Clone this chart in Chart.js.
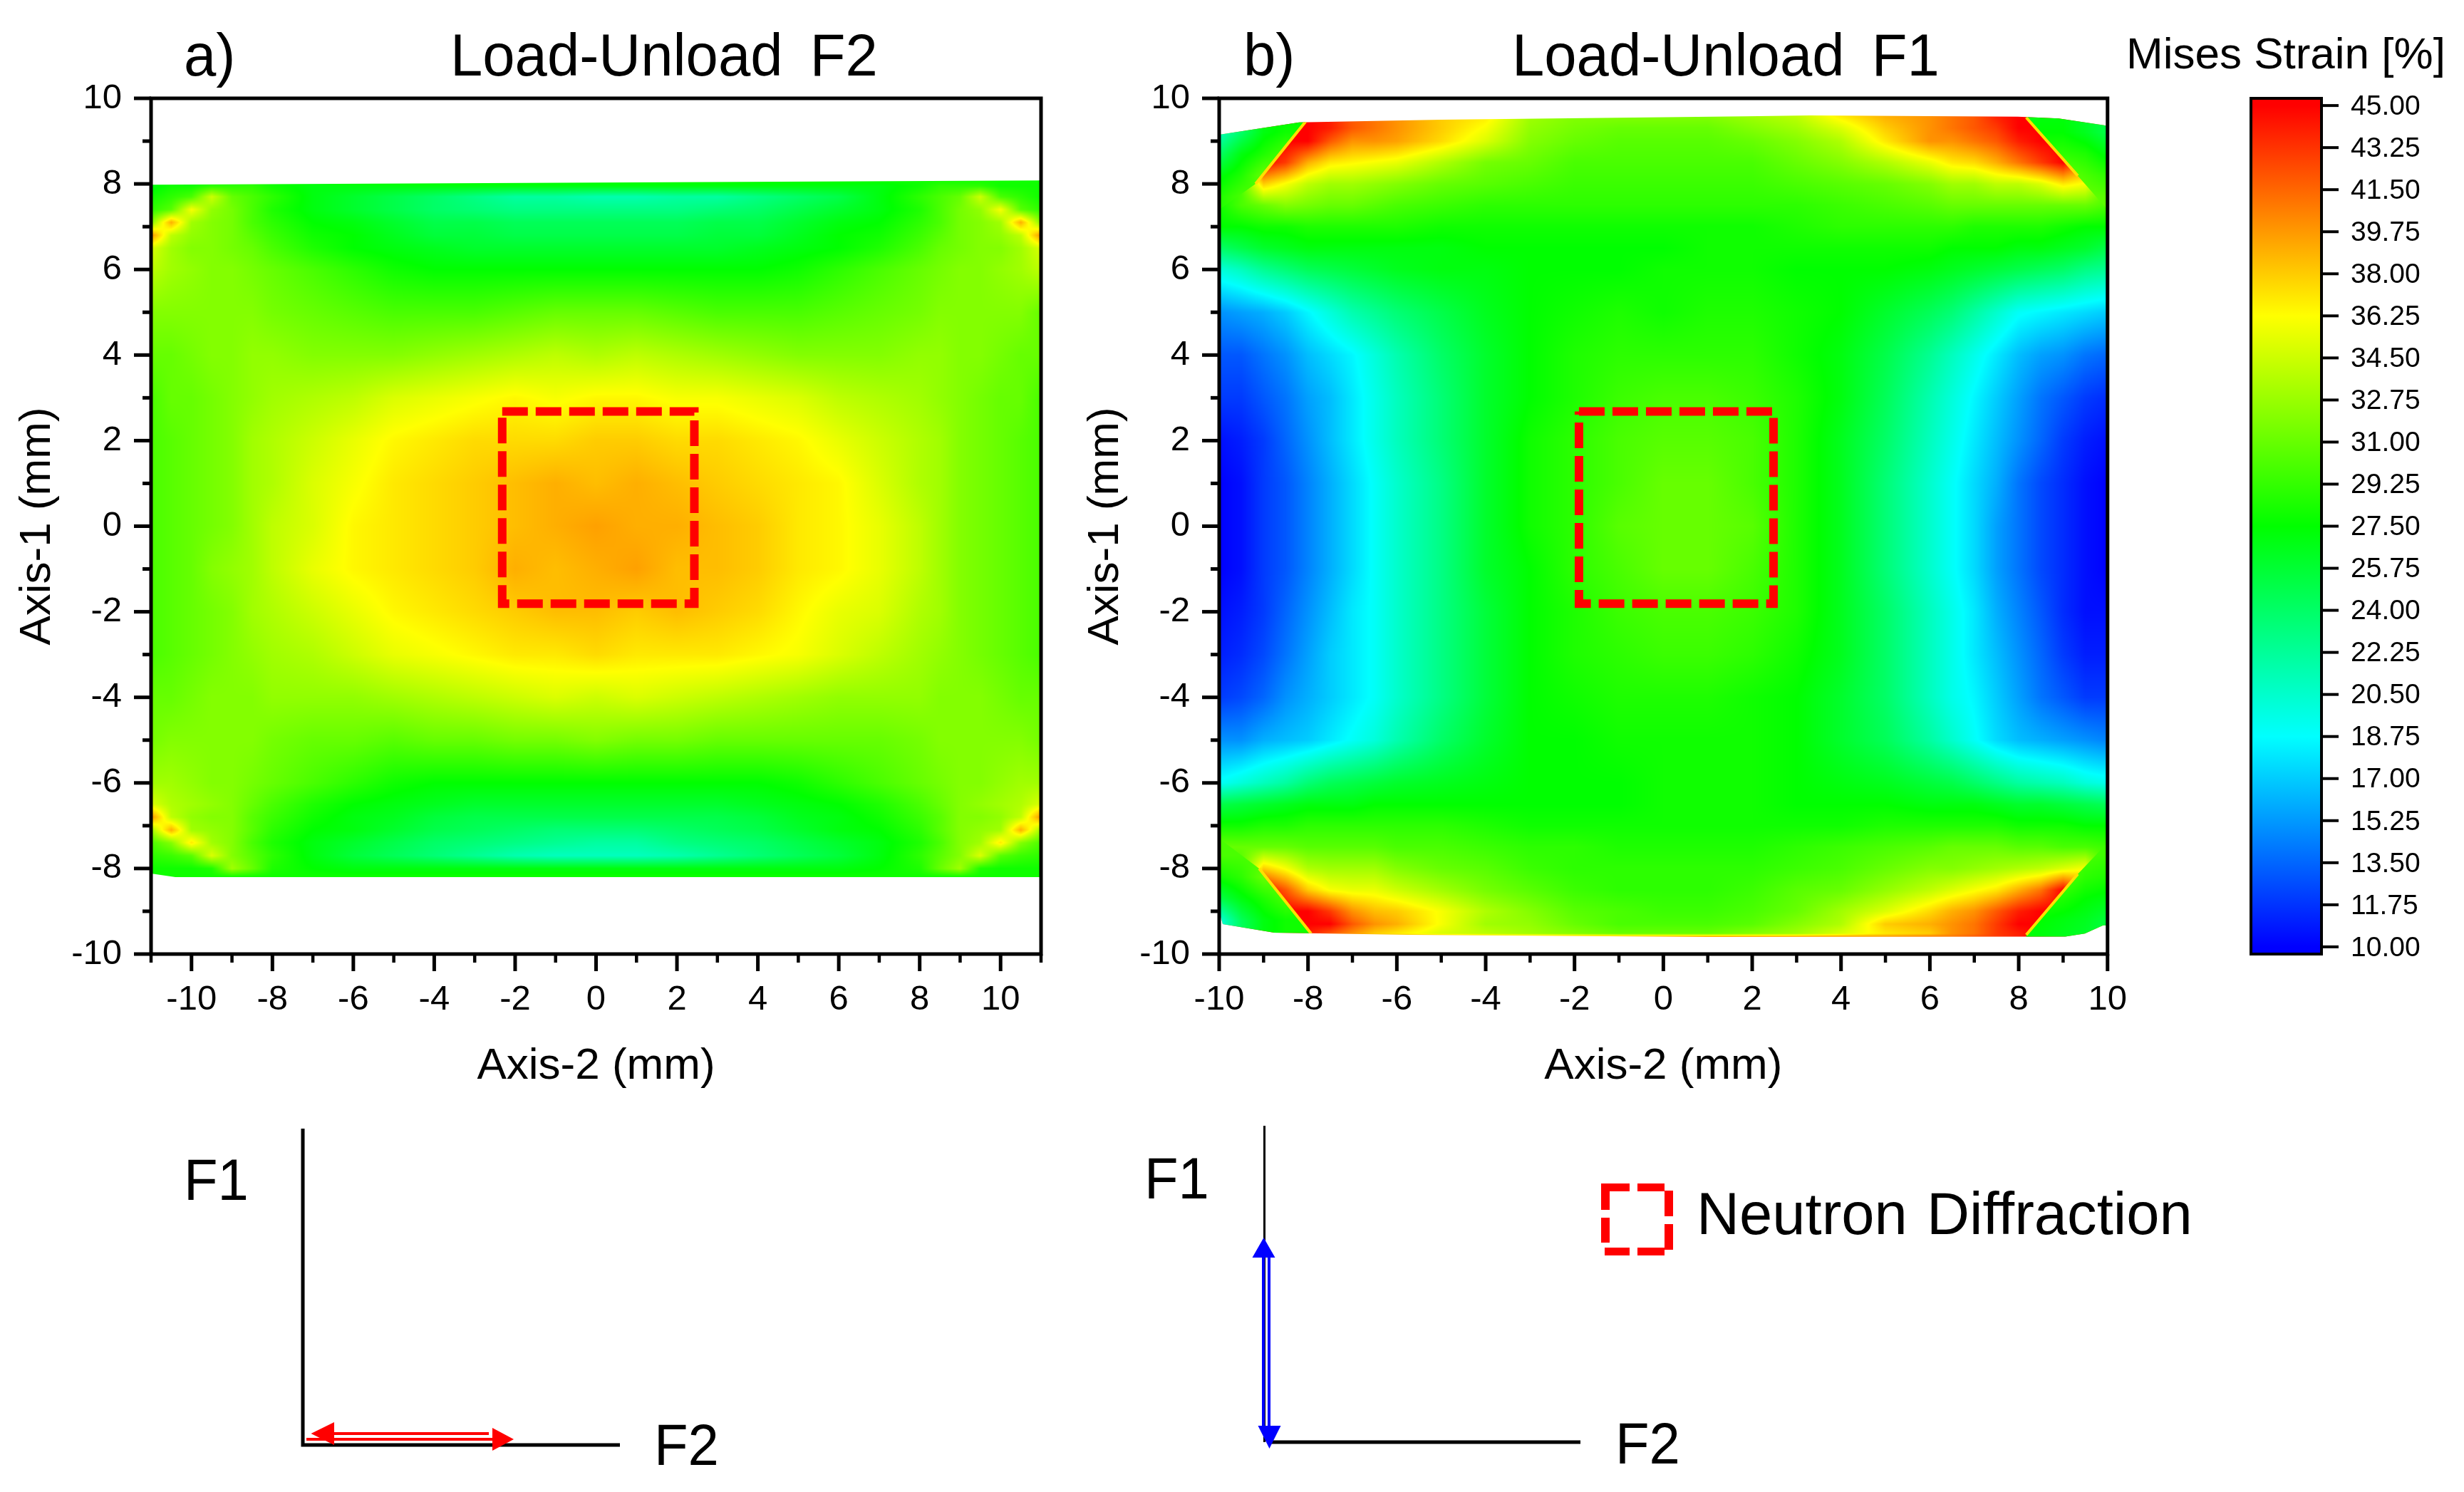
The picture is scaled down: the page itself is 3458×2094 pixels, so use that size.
<!DOCTYPE html>
<html><head><meta charset="utf-8">
<script src="https://cdn.jsdelivr.net/npm/chart.js@4/dist/chart.umd.min.js"></script>
<style>
html,body{margin:0;padding:0;background:#fff}
#page{position:relative;width:3458px;height:2094px;overflow:hidden;background:#fff}
canvas{position:absolute;top:0}
svg{position:absolute;left:0;top:0;pointer-events:none}
svg text{font-family:"Liberation Sans",Arial,sans-serif;fill:#000;white-space:pre}
</style></head><body>
<div id="page">
<canvas id="ca" width="1496" height="1560" style="left:0"></canvas>
<canvas id="cb" width="1530" height="1560" style="left:1490px"></canvas>
<canvas id="cc" width="458" height="1560" style="left:3000px"></canvas>
<svg width="3458" height="2094" xmlns="http://www.w3.org/2000/svg">
<text font-size="84" transform="translate(258,106) scale(.97,1)">a)</text>
<text font-size="84" word-spacing="16" transform="translate(632,106) scale(.97,1)">Load-Unload F2</text>
<text font-size="84" transform="translate(1745,106) scale(.97,1)">b)</text>
<text font-size="84" word-spacing="16" transform="translate(2122,106) scale(.97,1)">Load-Unload F1</text>
<text font-size="62" transform="translate(2984,96)">Mises Strain [%]</text>
<g stroke="#000" fill="none">
<path d="M425 1584V2028H870" stroke-width="5"/>
<path d="M1774.5 1580V2024" stroke-width="3"/>
<path d="M1783 2024H2218" stroke-width="5"/>
</g>
<g fill="#f00"><rect x="430" y="2018" width="265" height="4"/><rect x="460" y="2010" width="226" height="4"/>
<path d="M691 2004L721 2020L691 2036ZM469 1996L436.5 2012L469 2028Z"/></g>
<g fill="#00f"><rect x="1771" y="1760" width="4" height="245"/><rect x="1779" y="1760" width="4" height="245"/>
<path d="M1757.5 1765H1789.5L1773.5 1737ZM1765.5 2001H1797.5L1781.5 2033Z"/></g>
<text font-size="82" transform="translate(258,1684) scale(.95,1)">F1</text>
<text font-size="82" transform="translate(918,2056) scale(.95,1)">F2</text>
<text font-size="82" transform="translate(1606,1682) scale(.95,1)">F1</text>
<text font-size="82" transform="translate(2267,2054) scale(.95,1)">F2</text>
<g fill="#f00">
<rect x="2247" y="1661" width="40" height="11"/><rect x="2298" y="1661" width="38" height="11"/>
<rect x="2336" y="1671" width="12" height="36"/><rect x="2336" y="1718" width="12" height="36"/>
<rect x="2247" y="1665" width="12" height="33"/><rect x="2247" y="1709" width="12" height="35"/>
<rect x="2252" y="1751" width="35" height="11"/><rect x="2298" y="1751" width="38" height="11"/>
</g>
<text font-size="84" word-spacing="4" transform="translate(2381,1732) scale(.99,1)">Neutron Diffraction</text>
</svg>
</div>
<script>
const xTitle = "Axis-2 (mm)", yTitle = "Axis-1 (mm)";
const colorbarTicks = [10,11.75,13.5,15.25,17,18.75,20.5,22.25,24,25.75,27.5,29.25,31,32.75,34.5,36.25,38,39.75,41.5,43.25,45];
const colorStops = [[10,0,0,255],[18.75,0,255,255],[27.5,0,255,0],[36.25,255,255,0],[45,255,0,0]];

const squareAX = [-2.32,2.43,2.43,-2.32,-2.32], squareAY = [2.68,2.68,-1.81,-1.81,2.68];
const squareBX = [-1.9,2.48,2.48,-1.9,-1.9], squareBY = [2.68,2.68,-1.81,-1.81,2.68];

const outlineAX = [-11,0,11,11,-10.4,-11], outlineAY = [7.98,8.03,8.08,-8.2,-8.2,-8.12];
const outlineBX = [-10,-8.2,-5,1.85,3.3,7.98,8.9,9.92,10,10,9.9,9.49,9.05,1,-5.75,-8.76,-9.92,-10];
const outlineBY = [9.15,9.44,9.5,9.58,9.6,9.57,9.53,9.37,9.35,-9.33,-9.33,-9.52,-9.59,-9.6,-9.55,-9.5,-9.3,-9.0];

const gridAX = [-11,-10.5,-10,-9.5,-9,-8.5,-8,-7,-6,-5,-4,-3,-2,-1,0,1,2,3,4,5,6,7,8,8.5,9,9.5,10,10.5,11];
const gridAY = [8.1,7.95,7.7,7.4,7.1,6.8,6.5,6,5,4,3,2,1,0,-1,-2,-3,-4,-5,-6,-6.5,-6.8,-7.1,-7.4,-7.7,-8,-8.2];
const strainA = [
[28,28,28,28,28,28,28,28,28,28,28,28,28,28,28,28,28,28,28,28,28,28,28,28,28,28,28,28,28],
[27,28,28,29,29,29,28,27,27,27,27,27,27,27,27,27,27,27,27,27,27,27,28,29,29,29,28,28,28],
[28,29,30,34.5,31,30,29,27,26,25,24,23,22,22,21.5,21.5,22,22,23,24,25,27,29,30,31,34.5,30,29,28],
[29,30.5,36,32.5,31.5,30,28.5,27,26,25,24,23.5,23,23,23,23,23,23.5,24,25,26,27,28.5,30,31.5,32.5,36,30.5,29],
[32,39,33,32,31.5,30,29,27.5,27,26,25,25,24.5,24.5,24.5,24.5,24.5,25,25,26,27,27.5,29,30,31.5,32,33,39,32],
[40,34,32.5,32,31.5,30.5,29.5,28,27.5,26.5,25.5,25.5,25,25,25,25,25,25.5,25.5,26.5,27.5,28,29.5,30.5,31.5,32,32.5,34,40],
[35,33,32,32,31.5,31,30,28.5,27.5,27,26.5,26,26,26,26,26,26,26,26.5,27,27.5,28.5,30,31,31.5,32,32,33,35],
[34,33,32.5,32,32,31.5,31,30,29,28,27.5,27.5,27.5,27.5,27.5,27.5,27.5,27.5,27.5,28,29,30,31,31.5,32,32,32.5,33,34],
[32,32,32,32,32,32,31.5,31,30.5,30,30,30,30.5,31,31,31,30.5,30,30,30,30.5,31,31.5,32,32,32,32,32,31],
[31,31,31.5,32,32,32.5,32.5,32,32,32,32.5,33,33.5,34,33.5,34,33.5,33,32.5,32,32,32,32.5,32.5,32,32,31.5,31,31],
[30,31,31,31.5,32,32.5,33,33.5,34,35,35.5,36,36.5,36,36.5,36.5,36,36,35.5,35,34,33.5,33,32.5,32,31.5,31,31,30],
[30,30.5,31,31.5,32,33,33.5,34.5,35.5,36.5,37,37.5,37.5,37.5,38,38,37.5,37.5,37,36.5,35.5,34.5,33.5,33,32,31.5,31,30.5,30],
[30,30.5,31,31.5,32,33,33.5,35,36,37,37.5,38,38.5,39,38.5,39,38.5,38,37.5,37,36.5,35,33.5,33,32,31.5,31,30.5,30],
[30,30.5,31,31.5,32,33,34,35,36.5,37,37.5,38,38.5,39,39.5,39,39,38.5,38,37,36.5,35.5,34,33,32,31.5,31,30.5,30],
[30,30.5,31,32,32.5,33,34,35.5,36.5,37,37.5,38,39,38.5,39,39.5,38.5,38.5,38,37,36.5,35.5,34,33,32,31.5,31,30.5,30],
[30,30.5,31,31.5,32,33,33.5,34.5,35.5,36.5,37,37.5,38,38.5,38.5,38,38.5,38,37.5,36.5,35.5,35,33.5,33,32,31.5,31,30.5,30],
[30,30.5,31,31.5,32,32.5,33,33.5,34.5,35.5,36,36.5,37,37,37.5,37,37,37,36.5,36,35,34,33,32.5,32,31.5,31,30.5,30],
[31,31,31.5,32,32,32,32.5,32.5,32.5,33,33.5,34,34.5,35,34.5,35,34.5,34,33.5,33,32.5,32.5,32.5,32,32,32,31.5,31,31],
[31.5,32,32,32,32,32,31.5,31,31,30.5,31,31,31.5,31.5,32,31.5,31.5,31,31,31,31,31,31.5,32,32,32,32,32,31.5],
[33,33,32.5,32,32,31.5,31,30,29,28,27.5,27.5,27.5,27.5,27.5,27.5,27.5,27.5,27.5,28,29,30,31,31.5,32,32,32.5,33,33],
[35,33.5,33,32.5,32,31,30,28.5,27.5,27,26.5,26,26,26,26,26,26,26,26.5,27,27.5,28.5,30,31,32,32.5,33,33.5,35],
[40,34,32.5,32,32,30.5,29.5,28,27,26.5,25.5,25,25,25,25,25,25,25,25.5,26.5,27,28,29.5,30.5,32,32,32.5,34,40],
[33,39,33,32.5,32,30.5,29,27.5,27,26,25,24.5,24,23.5,23.5,23.5,24,24.5,25,26,27,27.5,29,30.5,32,32.5,33,39,33],
[30,32,37,33,32,30,28.5,27,26,25,24,23.5,23,22.5,22,22,23,23.5,24,25,26,27,28.5,30,32,33,37,32,30],
[29,29.5,30.5,35,32,30.5,29,27,25.5,24.5,23.5,22.5,21.5,21,21,21,21.5,22.5,23.5,24.5,25.5,27,29,30.5,32,35,30.5,29.5,29],
[28,28,28,28.5,33,31,28.5,27.5,27,27,27,27,27,27,27,27,27,27,27,27,27,27.5,28.5,31,33,28.5,28,28,28],
[28,28,28,28,28,28,28,28,28,28,28,28,28,28,28,28,28,28,28,28,28,28,28,28,28,28,28,28,28]
];

const gridBX = [-10,-9.5,-9,-8.5,-8,-7.5,-7,-6.5,-6,-5,-4,-3,-2,-1,0,1,2,3,4,5,6,6.5,7,7.5,8,8.5,9,9.5,10];
const gridBY = [9.6,9.3,9,8.5,8,7.5,7,6.5,6,5,4,3,2,1,0,-1,-2,-3,-4,-5,-6,-6.5,-7,-7.5,-8,-8.5,-9,-9.3,-9.52,-9.6];
const strainB = [
[40,42,44,45,45,44,42,41,40,38,37,33,32,32,32,32,33,34,37,39,40,41,42,44,45,45,45,44,40],
[40,42,44,45,45,44,42,41,40,38,36,32.5,31.5,31,31,31,32,33,35,38,40,41,42,43,45,45,44,42,40],
[36,40,44,45,45,42,40,40,39.5,37.5,35,32,31,30.5,30.5,30.5,31,32,33.5,37,40,40,41,42,44,45,45,42,38],
[30,36,45,43,39,37,36.5,36,35.5,33.5,31.5,31,30,30,30,30,30,31,32,33.5,35.5,37,37.5,39,41,43,45,40,33],
[28,30,38,36,34,33,33,32.5,32,31,30.5,30,29.5,29.5,29.5,29.5,29.5,30,30.5,31,32,33,33,34,34,35,37,36,30],
[28,30,31,32,31.5,31,31,30.5,30,29.5,29,29,29,29,29,29,29,29,29.5,30,30.5,31,31,31,31,31,31,31,30],
[27.5,27.5,28,28,28.5,28.5,28.5,28.5,28.5,28,28,28,28,28,28,28,28,28.5,29,29,29,29,28.5,28.5,28.5,28.5,28,27.5,27.5],
[24,25,26,26.5,27,27,27,27,27,27,27.5,27.5,27.5,27.5,27.5,28,28,28,28,28,28,27.5,27.5,27.5,27,27,26.5,26,25],
[20,21,22.5,23.5,24.5,25,25.5,26,26.5,27,27,27.5,27.5,27.5,28,28,28,27.5,27.5,27.5,27,26.5,26,25.5,25,24.5,24,23,22.5],
[15,15.5,16,17,18.5,20,21.5,22.5,23.5,25,26.5,27.5,28,28.5,28,28.5,28.5,28,27.5,26,24.5,23.5,22,20.5,19,18.5,18,17.5,17],
[13,13,14,15,16.5,17.5,18.5,20,21.5,24,26,27.5,28.5,29,29,29,29,28,27,25,22.5,21,19.5,18,16.5,15.5,15,14,13.5],
[12,12,13,14,15.5,16.5,18,19.5,21,23.5,26,27.5,28.5,29.5,30,30,29.5,28.5,27,24.5,21.5,20,18.5,17,15.5,14,13,12,11.5],
[10.5,11,12,13.5,15,16.5,18,19.5,21,23.5,26,28,29,30,30.5,30.5,30,28.5,26.5,24,21,19.5,18,16.5,15,13.5,12,11,10.5],
[10,10.5,12,13,14.5,16,17.5,19,20.5,23,26,28,29,30,31,31,30,28.5,26.5,23.5,20.5,19,17.5,16,14,12.5,11.5,10.5,10],
[10,10.5,12,13,14.5,16,17.5,19,20.5,23,26,28,29,30.5,31,31,30.5,28.5,26.5,23.5,20.5,19,17.5,15.5,14,12.5,11.5,10.5,10],
[10,10.5,12,13,14.5,16,17.5,19,20.5,23,26,27.5,29,30,31,31,30,28.5,26.5,23.5,20.5,19,17.5,15.5,14,12.5,11.5,10.5,10],
[10.5,11,12,13.5,15,16.5,18,19,20.5,23,25.5,27.5,28.5,29.5,30,30,29.5,28.5,26.5,24,21,19.5,18,16,14.5,13,11.5,10.5,10.5],
[11,11.5,12.5,14,15.5,17,18,19,20.5,23,25.5,27.5,28.5,29,29.5,29.5,29,28,26.5,24,21,19.5,18,16.5,15,13.5,12,11,11],
[12,12.5,13.5,15,16,17,18,19,20.5,23,25.5,27.5,28,28.5,28.5,28.5,28,27.5,26,24,21,19.5,18.5,17,15.5,14,13,12,12],
[15,15,16,16.5,17,18,19,20,21.5,24,26,27.5,27.5,28,28,28,28,27.5,26,24.5,22,20.5,19,17.5,16.5,16,15.5,15,14.5],
[19,20,21,22,23.5,24.5,25,25.5,26,26.5,27,27.5,27.5,27.5,28,28,28,27.5,27,26.5,25.5,25,24,23,22,21.5,21,20,19.5],
[25,25.5,26,26.5,27,27,27,27.5,27.5,27.5,27.5,27.5,27.5,27.5,28,28,28,27.5,27.5,27.5,27,27,27,26.5,26,26,25.5,25,24.5],
[28,28,28.5,28.5,29,29,29,29,29,29,28.5,28,28,28,28,28,28,28,28,28.5,28.5,28.5,28.5,28.5,28,28,28,27.5,27.5],
[31,31,31,31,30.5,30.5,30.5,30.5,30,30,29.5,29,29,28.5,28.5,28.5,28.5,29,29.5,30,30.5,31,31,31,30.5,30.5,30,30,29.5],
[28,30,38,36,33.5,33,33,33,32,31,30.5,29.5,29,29,29,29,29,29.5,30,31,32,32,32.5,33,33.5,34,35,36,29],
[30,36,45,42,38,36,35.5,35.5,34.5,33,31.5,30.5,29.5,29,29,29,29.5,30.5,31,32.5,34,35,36,37,39,41,45,40,32],
[36,40,44,45,45,43,40,38.5,38,36,33.5,32,30.5,30,29.5,29.5,30,31,33,35,37.5,39,40,42,44,45,45,42,38],
[40,42,44,45,45,45,42,40,39,36,33,32.5,31,30,30,30,30.5,32,33.5,38,39,40,41,43,45,45,44,42,40],
[40,42,44,45,44,42,40,38,37,35,34,33,32,31,31,31,32,33,35,37,38,40,41,43,44,45,44,42,40],
[40,42,44,45,44,42,42,41,41,41,40,40,40,40,40,40,40,40,40,40,41,41,42,43,44,45,44,42,40]
];

/* cooler corner triangles outside the hot wedges of panel b: first two outline points are the sharp diagonal */
const cornerLeftX = [-10,-9.5,-9,-8.5,-8], cornerRightX = [8,8.5,9,9.5,10];
const cornerTopY = [9.7,9.2,8.7,8.2,7.7], cornerBottomY = [-7.7,-8.2,-8.7,-9.2,-9.7];
const strainTL = [[21,24,27,27,27],[21,24,27,28,28],[24,27,28.5,30,30],[27,28.5,31,31,31],[28.5,30,30,31,31]];
const strainTR = [[26,27,27,26,25],[27,27.5,27.5,26.5,25],[29,29,29,28.5,27],[31,31,31,30,29],[31,31,31,31,30.5]];
const strainBL = [[30,30,30,31,31],[28,29,31,31,31],[25,27,28.5,30,30],[20,24.5,27,28,28],[19,24,27,28,28]];
const strainBR = [[30.5,30.5,30.5,30,29.5],[31,31,30.5,29,28.5],[29,29,28.5,27.5,27],[27.5,27.5,27,26.5,25.5],[27,27,26.5,26,25]];
const polyTLX = [-8.02,-9.18,-10,-10,-8.02], polyTLY = [9.5,8.0,7.4,9.7,9.7];
const polyTRX = [8.17,9.33,10,10,8.17], polyTRY = [9.55,8.19,7.4,9.7,9.7];
const polyBLX = [-9.1,-7.93,-7.93,-10,-10], polyBLY = [-8.0,-9.52,-9.7,-9.7,-7.3];
const polyBRX = [9.33,8.17,8.17,10,10], polyBRY = [-8.13,-9.55,-9.7,-9.7,-7.4];
const cornersB = [
  {xs:cornerLeftX,ys:cornerTopY,rows:strainTL,ox:polyTLX,oy:polyTLY},
  {xs:cornerRightX,ys:cornerTopY,rows:strainTR,ox:polyTRX,oy:polyTRY},
  {xs:cornerLeftX,ys:cornerBottomY,rows:strainBL,ox:polyBLX,oy:polyBLY},
  {xs:cornerRightX,ys:cornerBottomY,rows:strainBR,ox:polyBRX,oy:polyBRY}
];

function checkGrid(xs,ys,rows){ if(rows.length!==ys.length) throw new Error("rows "+rows.length); rows.forEach((r,i)=>{ if(r.length!==xs.length) throw new Error("row "+i+" len "+r.length); }); }
checkGrid(gridAX,gridAY,strainA); checkGrid(gridBX,gridBY,strainB);

function rgbFor(v){
  const s=colorStops;
  if(v<=s[0][0]) return s[0].slice(1);
  for(let i=1;i<s.length;i++){ if(v<=s[i][0]){ const t=(v-s[i-1][0])/(s[i][0]-s[i-1][0]);
    return [0,1,2].map(k=>s[i-1][k+1]+t*(s[i][k+1]-s[i-1][k+1])); } }
  return s[s.length-1].slice(1);
}
function segLookup(grid,val){
  const asc = grid[1]>grid[0]; let i=0;
  for(;i<grid.length-2;i++){ if(asc? val<grid[i+1] : val>grid[i+1]) break; }
  let t=(val-grid[i])/(grid[i+1]-grid[i]); t=Math.max(0,Math.min(1,t)); return [i,t];
}
function toPoints(xs,ys,rows){ const p=[]; ys.forEach((y,j)=>xs.forEach((x,i)=>p.push({x,y,v:rows[j][i]}))); return p; }
function toLine(xs,ys){ return xs.map((x,i)=>({x,y:ys[i]})); }

function paintField(chart,f){
  const {ctx,chartArea:a,scales:{x,y}}=chart;
  const pxs=f.ox.map(v=>x.getPixelForValue(v)), pys=f.oy.map(v=>y.getPixelForValue(v));
  const L=Math.max(Math.floor(Math.min(...pxs)),Math.round(a.left)), R=Math.min(Math.ceil(Math.max(...pxs)),Math.round(a.right));
  const T=Math.max(Math.floor(Math.min(...pys)),Math.round(a.top)), B=Math.min(Math.ceil(Math.max(...pys)),Math.round(a.bottom));
  const w=R-L, h=B-T;
  const off=document.createElement('canvas'); off.width=w; off.height=h;
  const oc=off.getContext('2d'), img=oc.createImageData(w,h), d=img.data;
  const cols=[], rws=[];
  for(let i=0;i<w;i++) cols.push(segLookup(f.xs,x.getValueForPixel(L+i+.5)));
  for(let j=0;j<h;j++) rws.push(segLookup(f.ys,y.getValueForPixel(T+j+.5)));
  let k=0;
  for(let j=0;j<h;j++){ const [rj,tj]=rws[j], r0=f.rows[rj], r1=f.rows[rj+1];
    for(let i=0;i<w;i++){ const [ci,ti]=cols[i];
      const v=(r0[ci]*(1-ti)+r0[ci+1]*ti)*(1-tj)+(r1[ci]*(1-ti)+r1[ci+1]*ti)*tj;
      const c=rgbFor(v); d[k++]=c[0]; d[k++]=c[1]; d[k++]=c[2]; d[k++]=255; } }
  oc.putImageData(img,0,0);
  ctx.save(); ctx.beginPath();
  pxs.forEach((px,i)=>{ i?ctx.lineTo(px,pys[i]):ctx.moveTo(px,pys[i]); });
  ctx.closePath(); ctx.clip(); ctx.drawImage(off,L,T); ctx.restore();
  return {pxs,pys};
}
const heatPlugin = {
  id:'heat',
  beforeDatasetsDraw(chart,args,opts){
    const {ctx}=chart;
    const main=paintField(chart,opts);
    ctx.save(); ctx.beginPath();
    main.pxs.forEach((px,i)=>{ i?ctx.lineTo(px,main.pys[i]):ctx.moveTo(px,main.pys[i]); });
    ctx.closePath(); ctx.clip();
    (opts.corners||[]).forEach(c=>{
      const e=paintField(chart,c);
      ctx.strokeStyle='rgb(255,225,0)'; ctx.lineWidth=4;
      ctx.beginPath(); ctx.moveTo(e.pxs[0],e.pys[0]); ctx.lineTo(e.pxs[1],e.pys[1]); ctx.stroke();
    });
    ctx.restore();
  },
  afterDatasetsDraw(chart){
    const {ctx,chartArea:a,scales:{x,y}}=chart;
    ctx.save(); ctx.strokeStyle='#000'; ctx.lineWidth=5;
    ctx.strokeRect(a.left,a.top,a.right-a.left,a.bottom-a.top);
    x.ticks.forEach(t=>{ const px=x.getPixelForValue(t.value), major=Math.abs(t.value%2)<1e-6;
      ctx.beginPath(); ctx.lineWidth=major?5:4.5; ctx.moveTo(px,a.bottom); ctx.lineTo(px,a.bottom+(major?24:12)); ctx.stroke(); });
    y.ticks.forEach(t=>{ const py=y.getPixelForValue(t.value), major=Math.abs(t.value%2)<1e-6;
      ctx.beginPath(); ctx.lineWidth=5; ctx.moveTo(a.left,py); ctx.lineTo(a.left-(major?24:12),py); ctx.stroke(); });
    ctx.restore();
  }
};
const evenLabel = v => (Math.abs(v%2)<1e-6 ? String(v) : '');
function panel(id,xr,yw,padR,titlePad,xs,ys,rows,ox,oy,sx,sy,corners){
  return new Chart(document.getElementById(id),{
    type:'scatter',
    plugins:[heatPlugin],
    data:{datasets:[
      {label:'Mises strain',data:toPoints(xs,ys,rows),pointRadius:0,showLine:false},
      {label:'Neutron Diffraction',data:toLine(sx,sy),showLine:true,pointRadius:0,borderColor:'#f00',borderWidth:12,borderDash:[36,11],borderCapStyle:'butt',borderJoinStyle:'miter',fill:false,tension:0}
    ]},
    options:{
      responsive:false,animation:false,devicePixelRatio:1,
      layout:{autoPadding:false,padding:{left:0,top:138,right:padR,bottom:0}},
      plugins:{legend:{display:false},tooltip:{enabled:false},
        heat:{xs,ys,rows,ox,oy,corners}},
      scales:{
        x:{type:'linear',min:-xr,max:xr,afterFit(s){s.height=221;},
          grid:{display:false,drawTicks:false},border:{display:false},
          ticks:{stepSize:1,autoSkip:false,maxRotation:0,padding:35,color:'#000',font:{family:'"Liberation Sans"',size:49},callback:evenLabel},
          title:{display:true,text:xTitle,color:'#000',font:{family:'"Liberation Sans"',size:62},padding:{top:0,bottom:26}}},
        y:{type:'linear',min:-10,max:10,afterFit(s){s.width=yw;},
          grid:{display:false,drawTicks:false},border:{display:false},
          ticks:{stepSize:1,autoSkip:false,padding:41,color:'#000',font:{family:'"Liberation Sans"',size:49},callback:evenLabel},
          title:{display:true,text:yTitle,color:'#000',font:{family:'"Liberation Sans"',size:62},padding:{top:titlePad,bottom:0}}}
      }
    }
  });
}
panel('ca',11,212,35,16,gridAX,gridAY,strainA,outlineAX,outlineAY,squareAX,squareAY,[]);
panel('cb',10,221,35,25,gridBX,gridBY,strainB,outlineBX,outlineBY,squareBX,squareBY,cornersB);

const colorbarPlugin={
  id:'colorbar',
  beforeDatasetsDraw(chart){
    const {ctx,chartArea:a,scales:{y}}=chart;
    const g=ctx.createLinearGradient(0,y.getPixelForValue(colorStops[0][0]),0,y.getPixelForValue(colorStops[4][0]));
    colorStops.forEach(s=>g.addColorStop((s[0]-colorStops[0][0])/(colorStops[4][0]-colorStops[0][0]),`rgb(${s[1]},${s[2]},${s[3]})`));
    ctx.save(); ctx.fillStyle=g; ctx.fillRect(a.left,a.top,a.right-a.left,a.bottom-a.top); ctx.restore();
  },
  afterDatasetsDraw(chart){
    const {ctx,chartArea:a,scales:{y}}=chart;
    ctx.save(); ctx.strokeStyle='#000'; ctx.lineWidth=4;
    ctx.strokeRect(a.left,a.top,a.right-a.left,a.bottom-a.top);
    y.ticks.forEach(t=>{const py=y.getPixelForValue(t.value); ctx.beginPath(); ctx.moveTo(a.right,py); ctx.lineTo(a.right+24,py); ctx.stroke();});
    ctx.restore();
  }
};
new Chart(document.getElementById('cc'),{
  type:'scatter',plugins:[colorbarPlugin],
  data:{datasets:[{label:'scale',data:colorbarTicks.map(v=>({x:.5,y:v})),pointRadius:0,showLine:false}]},
  options:{responsive:false,animation:false,devicePixelRatio:1,
    layout:{autoPadding:false,padding:{left:159,top:138,right:0,bottom:221}},
    plugins:{legend:{display:false},tooltip:{enabled:false}},
    scales:{
      x:{type:'linear',display:false,min:0,max:1},
      y:{type:'linear',position:'right',min:9.7,max:45.3,afterFit(s){s.width=200;},
        afterBuildTicks(s){s.ticks=colorbarTicks.map(v=>({value:v}));},
        grid:{display:false,drawTicks:false},border:{display:false},
        ticks:{autoSkip:false,padding:41,labelOffset:2,color:'#000',font:{family:'"Liberation Sans"',size:39},callback:v=>Number(v).toFixed(2)}}
    }
  }
});
</script>
</body></html>
